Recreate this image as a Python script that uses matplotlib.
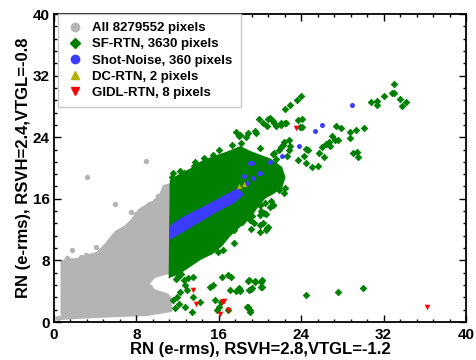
"""Scatter of RN per pixel at two bias conditions, with RTN/shot-noise classes."""

import numpy as np
import matplotlib
matplotlib.use('Agg')
import matplotlib.pyplot as plt
from matplotlib.lines import Line2D
from matplotlib.ticker import MultipleLocator

plt.rcParams['font.family'] = ['Liberation Sans', 'DejaVu Sans']
plt.rcParams['font.weight'] = 'bold'

COLOR_ALL = '#b4b4b4'
COLOR_SF = '#008000'
COLOR_SHOT = '#3c3cff'
COLOR_DC = '#b4b400'
COLOR_GIDL = '#ff0000'

# outline of the dense gray cloud (all pixels)
all_x = [0.8, 0.8, 1.3, 2.3, 3.1, 4.2, 4.9, 5.7, 6.1, 7.0, 7.6, 8.3, 8.9, 9.7, 10.4, 10.7,
         11.3, 11.3, 10.4, 9.7, 9.1, 9.4, 9.8, 11.0, 11.3, 11.3, 9.0, 5.0, 2.0]
all_y = [0.5, 7.8, 8.0, 8.1, 8.5, 8.9, 9.8, 11.1, 11.7, 12.4, 13.2, 14.5, 15.0, 15.6, 16.6, 17.6,
         17.8, 6.5, 6.2, 5.9, 5.0, 4.4, 4.0, 3.5, 3.0, 1.5, 1.0, 0.8, 0.6]
# isolated gray pixels
all_px = [3.2, 5.9, 8.9, 1.7, 3.1, 4.1, 6.0, 7.5, 0.4, 1.3, 2.6, 5.3, 8.0, 9.2, 10.1, 9.3]
all_py = [18.8, 15.3, 20.9, 9.4, 8.7, 9.7, 11.5, 14.3, 0.5, 8.3, 8.4, 10.3, 14.0, 15.3, 16.3, 4.6]

# outline of the dense SF-RTN cloud
sf_x = [11.3, 12.2, 13.2, 14.2, 15.3, 16.2, 17.0, 17.8, 18.6, 19.3, 19.8, 20.4, 21.2, 22.0, 22.3,
        22.0, 21.0, 20.0, 19.0, 18.1, 16.8, 15.5, 14.5, 13.4, 12.2, 11.4]
sf_y = [6.0, 6.5, 7.4, 8.3, 9.0, 10.0, 11.3, 12.3, 13.2, 14.3, 15.3, 16.2, 16.8, 17.5, 18.8,
        20.0, 21.0, 21.5, 22.0, 22.6, 21.9, 21.3, 20.8, 19.8, 19.0, 18.3]
# scattered SF-RTN pixels
sf_px = [33.0, 32.8, 33.0, 32.0, 30.8, 31.4, 31.4, 33.8, 34.2, 33.6, 22.9, 23.6, 24.0,
         23.7, 24.1, 23.9, 24.1, 21.0, 21.3, 21.6, 22.0, 22.4, 27.4, 27.9, 28.7, 29.3, 30.1, 28.7,
         27.0, 27.3, 27.6, 26.7, 26.4, 26.8, 29.0, 29.4, 29.5, 25.7, 26.2, 26.0, 23.7, 24.5, 25.0,
         25.6, 24.5, 24.7, 24.3, 22.3, 22.8, 22.9, 22.8, 22.6, 22.0, 21.6, 21.3,
         17.7, 18.0, 18.8, 19.6, 19.9, 20.7, 21.4, 22.0, 22.5, 22.4, 18.1, 18.6, 19.5, 20.3, 20.8,
         13.7, 13.8, 12.2, 20.0, 21.4, 21.8, 22.2,
         12.6, 13.0, 13.5, 12.7, 12.9, 12.2, 11.9, 11.6, 12.1, 12.7, 13.4, 14.2, 13.5, 11.7,
         15.1, 15.4, 16.3, 16.9, 17.2, 17.1, 17.7, 18.0, 18.1, 18.9, 19.1, 18.8, 19.5, 20.1, 20.1,
         15.6, 16.2, 15.8, 16.0, 16.9, 18.8, 19.0, 24.5, 27.6, 30.0, 18.7, 19.0, 18.1, 18.9,
         19.5, 20.2, 19.2, 20.2,
         21.3, 21.8, 22.3, 22.4, 20.0, 20.5, 21.1, 21.3, 20.1, 20.6, 20.3, 20.8, 20.0, 20.6, 19.1,
         19.4, 20.0, 21.0, 21.3, 20.4, 19.0, 19.4, 20.0, 20.7, 20.0, 16.4, 15.9, 17.5,
         12.6, 13.6, 14.6, 15.4, 16.0, 17.3, 18.2, 11.5, 11.6, 11.8, 12.0, 12.3, 11.9,
         14.8, 15.9, 16.7, 17.5, 18.3, 19.2, 13.1, 14.0, 15.0]
sf_py = [30.9, 29.7, 29.8, 29.4, 28.6, 28.7, 28.2, 28.1, 28.6, 28.9, 28.2, 28.8, 29.3,
         26.2, 26.4, 25.3, 25.3, 26.5, 26.1, 25.4, 25.9, 25.9, 25.5, 25.2, 24.7, 25.0, 25.2, 23.9,
         24.1, 23.6, 23.7, 23.4, 23.1, 22.9, 21.9, 22.1, 21.4, 22.0, 21.4, 22.7, 21.0, 20.6, 20.1,
         20.2, 22.5, 22.3, 21.6, 23.4, 23.6, 22.9, 22.3, 21.6, 22.7, 21.2, 21.8,
         24.7, 24.1, 24.5, 24.6, 26.3, 25.4, 25.9, 25.6, 25.9, 27.6, 24.3, 24.0, 24.8, 25.8, 26.4,
         20.8, 20.2, 19.6, 22.6, 21.9, 22.4, 23.0,
         5.5, 5.7, 5.9, 4.8, 4.2, 3.9, 3.3, 2.9, 2.4, 2.0, 1.3, 2.6, 3.3, 1.8,
         4.6, 4.8, 5.8, 6.1, 5.9, 4.2, 4.0, 4.4, 4.0, 4.2, 4.3, 5.3, 5.2, 5.2, 4.5,
         2.9, 2.6, 1.5, 1.9, 1.5, 1.9, 1.3, 3.5, 3.9, 4.4, 2.0, 1.6, 4.2, 5.5,
         5.3, 5.4, 4.4, 4.5,
         17.6, 17.2, 16.8, 17.4, 15.2, 15.5, 15.7, 15.2, 14.4, 14.0, 12.8, 12.4, 11.7, 11.9, 12.1,
         15.6, 15.2, 14.9, 15.2, 14.2, 13.2, 12.8, 12.6, 12.2, 13.9, 9.4, 9.1, 10.2,
         19.4, 20.3, 21.3, 21.7, 22.3, 23.0, 23.3, 18.8, 19.3, 5.6, 5.9, 6.2, 6.4,
         9.6, 10.3, 11.6, 12.0, 13.0, 13.8, 7.9, 8.8, 9.4]

# dense shot-noise band and scattered shot-noise pixels
shot_x = [11.3, 12.5, 14.0, 15.5, 17.5, 18.3, 17.8, 16.0, 14.0, 12.5, 11.5, 11.3]
shot_y = [10.9, 11.8, 13.0, 14.2, 15.6, 16.6, 17.2, 15.9, 14.5, 13.5, 12.6, 12.2]
shot_px = [28.9, 26.0, 25.3, 23.8, 22.1, 21.0, 19.2, 19.9, 18.7, 19.0, 19.3, 20.0, 18.4]
shot_py = [28.2, 25.6, 24.8, 22.8, 21.5, 20.8, 20.7, 19.4, 18.0, 20.7, 18.7, 19.3, 18.9]

dc_x = [18.4, 18.0]
dc_y = [17.9, 17.6]

gidl_x = [13.5, 13.8, 16.1, 16.3, 16.5, 16.9, 36.2, 23.5]
gidl_y = [4.2, 2.4, 1.1, 2.6, 2.7, 1.6, 1.9, 25.2]

labels = ['All 8279552 pixels', 'SF-RTN, 3630 pixels', 'Shot-Noise, 360 pixels',
          'DC-RTN, 2 pixels', 'GIDL-RTN, 8 pixels']

fig = plt.figure(figsize=(4.76, 3.6), dpi=100)
ax = fig.add_axes([54 / 476, 38 / 360, 412 / 476, 308 / 360])

ax.fill(all_x, all_y, color=COLOR_ALL, edgecolor=COLOR_ALL, linewidth=2.5, zorder=1)
ax.scatter(all_px, all_py, s=15, marker='o', color=COLOR_ALL, linewidths=0, zorder=1)

ax.fill(sf_x, sf_y, color=COLOR_SF, edgecolor=COLOR_SF, linewidth=2.5, zorder=2)
ax.scatter(sf_px, sf_py, s=11, marker='D', color=COLOR_SF, edgecolors=COLOR_SF,
           linewidths=0.6, zorder=2)

ax.fill(shot_x, shot_y, color=COLOR_SHOT, edgecolor=COLOR_SHOT, linewidth=1.5, zorder=3)
ax.scatter(shot_px, shot_py, s=13, marker='o', color=COLOR_SHOT, linewidths=0, zorder=3)

ax.scatter(dc_x, dc_y, s=14, marker='^', color=COLOR_DC, linewidths=0, zorder=4)
ax.scatter(gidl_x, gidl_y, s=16, marker='v', color=COLOR_GIDL, linewidths=0, zorder=5)

ax.set_xlim(0, 40)
ax.set_ylim(0, 40)
ax.xaxis.set_major_locator(MultipleLocator(8))
ax.yaxis.set_major_locator(MultipleLocator(8))
ax.xaxis.set_minor_locator(MultipleLocator(1.6))
ax.yaxis.set_minor_locator(MultipleLocator(1.6))
ax.tick_params(which='both', direction='in', top=True, right=True, width=1.0,
               labelsize=11, pad=3)
ax.tick_params(axis='x', which='both', pad=4.5)
ax.tick_params(which='major', length=5)
ax.tick_params(which='minor', length=2.5)
for sp in ax.spines.values():
    sp.set_linewidth(1.3)

ax.set_xlabel('RN (e-rms), RSVH=2.8,VTGL=-1.2', fontsize=12, fontweight='bold', labelpad=0)
ax.set_ylabel('RN (e-rms), RSVH=2.4,VTGL=-0.8', fontsize=12, fontweight='bold', labelpad=1)

handles = [
    Line2D([], [], linestyle='none', marker='o', markersize=6, color=COLOR_ALL),
    Line2D([], [], linestyle='none', marker='D', markersize=5, color=COLOR_SF),
    Line2D([], [], linestyle='none', marker='o', markersize=6, color=COLOR_SHOT),
    Line2D([], [], linestyle='none', marker='^', markersize=6, color=COLOR_DC),
    Line2D([], [], linestyle='none', marker='v', markersize=6, color=COLOR_GIDL),
]
leg = ax.legend(handles, labels, loc='upper left', bbox_to_anchor=(0.01, 1.0),
                borderaxespad=0, prop={'weight': 'bold', 'size': 9.5},
                fancybox=False, edgecolor='#c8c8c8', framealpha=1,
                handletextpad=0.7, labelspacing=0.3, handlelength=1.3, borderpad=0.6)
leg.get_frame().set_linewidth(1.0)

fig.savefig('out.png', dpi=100)
